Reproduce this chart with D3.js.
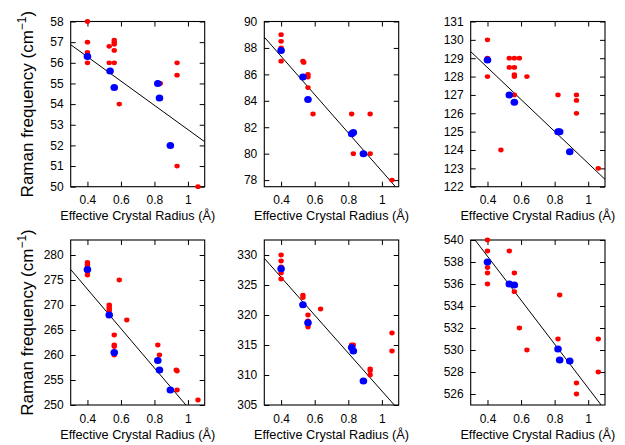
<!DOCTYPE html>
<html><head><meta charset="utf-8">
<script src="https://cdn.jsdelivr.net/npm/d3@7"></script>
<style>body{margin:0;background:#fff}svg{display:block}text{font-family:"Liberation Sans",Arial,sans-serif}</style>
</head><body><svg id="c" width="625" height="445"></svg>
<script>
// ---- data ----
const xTicks = [0.4, 0.6, 0.8, 1];
const xLabel = "Effective Crystal Radius (Å)";
const yTitle = "Raman frequency (cm";

const yDomains = [[50, 58], [77.5, 90], [122, 131], [250, 283], [305, 332.5], [525, 540]];
const yTicks = [
  [50, 51, 52, 53, 54, 55, 56, 57, 58],
  [78, 80, 82, 84, 86, 88, 90],
  [122, 123, 124, 125, 126, 127, 128, 129, 130, 131],
  [250, 255, 260, 265, 270, 275, 280],
  [305, 310, 315, 320, 325, 330],
  [526, 528, 530, 532, 534, 536, 538, 540]
];
// fit lines: [intercept, slope]
const fits = [[58.64, -5.875], [93.17, -14.5], [131.97, -8.7], [288.92, -39.4], [338.93, -31.6], [546.51, -19.97]];

const red1 = [[0.4,58],[0.4,57],[0.4,56.5],[0.4,56.4],[0.4,56],[0.53,56.8],[0.53,56],[0.56,57.1],[0.56,57],[0.56,56.9],[0.56,56.6],[0.56,56],[0.59,54],[0.835,55],[0.935,56],[0.935,55.4],[0.935,51],[1.06,50]];
const blue1 = [[0.4,56.3],[0.535,55.6],[0.56,54.8],[0.82,55],[0.83,54.3],[0.895,52]];
const red2 = [[0.4,89],[0.4,88.5],[0.4,88],[0.4,87],[0.53,87],[0.535,86.9],[0.56,86],[0.56,85.8],[0.56,85],[0.59,83],[0.82,83],[0.83,80],[0.93,83],[0.93,80],[1.06,78],[0.83,81.6]];
const blue2 = [[0.4,87.8],[0.53,85.8],[0.56,84.1],[0.82,81.5],[0.83,81.6],[0.89,80]];
const red3 = [[0.4,130],[0.4,129],[0.4,128],[0.53,129],[0.53,128.5],[0.56,129],[0.56,128.5],[0.56,128.1],[0.56,128],[0.59,129],[0.635,128],[0.48,124],[0.56,127],[0.82,127],[0.93,127],[0.93,126.7],[0.93,126],[1.06,123]];
const blue3 = [[0.4,128.9],[0.53,127],[0.56,126.6],[0.82,125],[0.83,125],[0.89,123.9]];
const red4 = [[0.4,278.5],[0.4,278.1],[0.4,277.8],[0.4,276.7],[0.4,276],[0.59,275],[0.53,270],[0.53,269.6],[0.53,269.2],[0.53,268.8],[0.635,267],[0.56,264],[0.56,262],[0.56,261.7],[0.56,260],[0.82,262],[0.83,260],[0.93,257],[0.935,256.8],[0.935,253],[1.06,251]];
const blue4 = [[0.4,277.1],[0.53,268],[0.56,260.5],[0.82,258.9],[0.83,257],[0.895,253]];
const red5 = [[0.4,330],[0.4,329],[0.4,328],[0.4,327],[0.4,326],[0.53,323.3],[0.53,322.9],[0.56,320],[0.56,319],[0.56,318],[0.635,321],[0.82,315],[0.83,315],[0.93,311],[0.93,310.7],[0.93,310],[1.06,317],[1.06,314]];
const blue5 = [[0.4,327.7],[0.53,321.7],[0.56,318.7],[0.82,314.6],[0.83,314],[0.89,309]];
const red6 = [[0.4,540],[0.4,539],[0.4,537.5],[0.4,537],[0.4,536],[0.53,539],[0.56,537],[0.56,535.3],[0.59,532],[0.635,530],[0.82,531],[0.83,535],[1.06,531],[1.06,528],[0.93,527],[0.93,526]];
const blue6 = [[0.4,538],[0.53,536],[0.56,535.9],[0.82,530.1],[0.83,529.1],[0.89,529]];
const reds = [red1, red2, red3, red4, red5, red6];
const blues = [blue1, blue2, blue3, blue4, blue5, blue6];

// ---- layout ----
const colL = [70.7, 264.3, 470.7], colR = [204.7, 398.7, 605];
const rowT = [21.5, 240], rowB = [186.7, 405];

const svg = d3.select("#c");
const defs = svg.append("defs");

for (let p = 0; p < 6; p++) {
  const c = p % 3, r = Math.floor(p / 3);
  const x = d3.scaleLinear().domain([0.3, 1.1]).range([colL[c], colR[c]]);
  const y = d3.scaleLinear().domain(yDomains[p]).range([rowB[r], rowT[r]]);
  const g = svg.append("g");
  const cid = "clip" + p;
  defs.append("clipPath").attr("id", cid).append("rect")
    .attr("x", colL[c]).attr("y", rowT[r]).attr("width", colR[c] - colL[c]).attr("height", rowB[r] - rowT[r]);

  const tl = 5;
  // axes (inward ticks, mirrored)
  const axB = d3.axisBottom(x).tickValues(xTicks).tickSizeInner(-tl).tickSizeOuter(0).tickFormat(d3.format("~g")).tickPadding(9);
  const axT = d3.axisTop(x).tickValues(xTicks).tickSizeInner(-tl).tickSizeOuter(0).tickFormat("");
  const axL = d3.axisLeft(y).tickValues(yTicks[p]).tickSizeInner(-tl).tickSizeOuter(0).tickFormat(d3.format("~g")).tickPadding(7);
  const axR = d3.axisRight(y).tickValues(yTicks[p]).tickSizeInner(-tl).tickSizeOuter(0).tickFormat("");
  const gB = g.append("g").attr("transform", `translate(0,${rowB[r]})`).call(axB);
  const gT = g.append("g").attr("transform", `translate(0,${rowT[r]})`).call(axT);
  const gL = g.append("g").attr("transform", `translate(${colL[c]},0)`).call(axL);
  const gR = g.append("g").attr("transform", `translate(${colR[c]},0)`).call(axR);
  [gB, gT, gL, gR].forEach(a => {
    a.select(".domain").remove();
    a.selectAll("line").attr("stroke", "#000").attr("stroke-width", 1);
    a.selectAll("text").attr("font-size", 12).attr("fill", "#000").attr("font-family", '"Liberation Sans",Arial,sans-serif');
  });
  // frame
  g.append("rect").attr("x", colL[c]).attr("y", rowT[r])
    .attr("width", colR[c] - colL[c]).attr("height", rowB[r] - rowT[r])
    .attr("fill", "none").attr("stroke", "#000").attr("stroke-width", 1.1);

  // fit line
  const [b0, b1] = fits[p];
  g.append("line").attr("clip-path", `url(#${cid})`)
    .attr("x1", x(0.3)).attr("y1", y(b0 + b1 * 0.3))
    .attr("x2", x(1.1)).attr("y2", y(b0 + b1 * 1.1))
    .attr("stroke", "#000").attr("stroke-width", 1);

  // points
  g.append("g").selectAll("ellipse").data(reds[p]).join("ellipse")
    .attr("cx", d => x(d[0])).attr("cy", d => y(d[1])).attr("rx", 2.7).attr("ry", 2.4).attr("fill", "#ff0000");
  g.append("g").selectAll("ellipse").data(blues[p]).join("ellipse")
    .attr("cx", d => x(d[0])).attr("cy", d => y(d[1])).attr("rx", 3.8).attr("ry", 3.5).attr("fill", "#0000ff");

  // x label
  g.append("text").attr("x", (colL[c] + colR[c]) / 2).attr("y", rowB[r] + 33.5)
    .attr("text-anchor", "middle").attr("font-size", 12.7).attr("fill", "#000").text(xLabel);

  // y title on first column
  if (c === 0) {
    const cy = (rowT[r] + rowB[r]) / 2;
    const t = g.append("text").attr("transform", `translate(33,${cy}) rotate(-90)`)
      .attr("text-anchor", "middle").attr("font-size", 17).attr("fill", "#000");
    t.append("tspan").text(yTitle);
    t.append("tspan").attr("font-size", 12).attr("dy", -7).text("−1");
    t.append("tspan").attr("dy", 7).text(")");
  }
}
</script></body></html>
